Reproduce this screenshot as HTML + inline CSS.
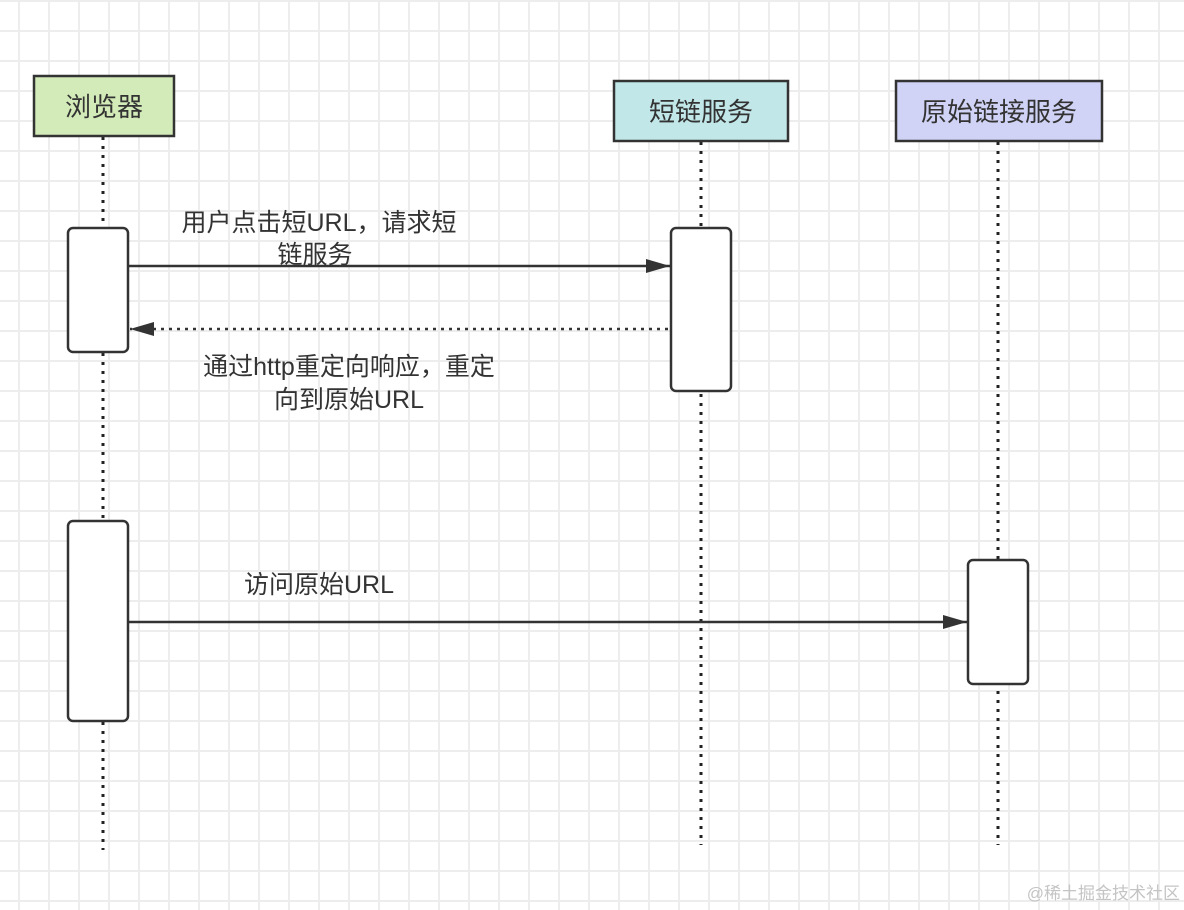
<!DOCTYPE html>
<html><head><meta charset="utf-8"><style>
body{margin:0;width:1184px;height:910px;overflow:hidden;background:#fff;
background-image:linear-gradient(to right,#ededed 2px,transparent 2px),linear-gradient(to bottom,#ededed 2px,transparent 2px);
background-size:30px 30px;background-position:18px 0px;}
svg{position:absolute;left:0;top:0}
text{font-family:"Liberation Sans","Noto Sans CJK SC",sans-serif;fill:#333}
</style></head><body>
<svg width="1184" height="910">
<defs>
<marker id="b" viewBox="0 0 24 14" markerWidth="24" markerHeight="14" refX="24" refY="7" orient="auto" markerUnits="userSpaceOnUse"><path d="M0,0 L24,7 L0,14z" fill="#333"/></marker></defs>
<g stroke="#222" stroke-width="3" stroke-dasharray="3,6">
<line x1="103" y1="137" x2="103" y2="850"/>
<line x1="701" y1="142" x2="701" y2="845"/>
<line x1="998" y1="142" x2="998" y2="845"/>
</g>
<g stroke="#333" stroke-width="2.5">
<rect x="34" y="76" width="140" height="60" fill="#d3ebb8"/>
<rect x="614" y="81" width="174" height="60" fill="#c1e7e8"/>
<rect x="896" y="81" width="206" height="60" fill="#d0d3f5"/>
</g>
<g stroke="#333" stroke-width="2.5" fill="#fff">
<rect x="68" y="228" width="60" height="124" rx="5"/>
<rect x="671" y="228" width="60" height="163" rx="5"/>
<rect x="68" y="521" width="60" height="200" rx="5"/>
<rect x="968" y="560" width="60" height="124" rx="5"/>
</g>
<line x1="129" y1="266" x2="670" y2="266" stroke="#333" stroke-width="2.5" marker-end="url(#b)"/>
<line x1="668" y1="329" x2="130" y2="329" stroke="#333" stroke-width="2.5" stroke-dasharray="3,5" marker-end="url(#b)"/>
<line x1="129" y1="622" x2="967" y2="622" stroke="#333" stroke-width="2.5" marker-end="url(#b)"/>
<g font-size="26" text-anchor="middle">
<text x="104" y="116">浏览器</text>
<text x="701" y="121">短链服务</text>
<text x="999" y="121">原始链接服务</text>
</g>
<g font-size="25" text-anchor="middle">
<text x="319" y="231">用户点击短URL，请求短</text>
<text x="315" y="263">链服务</text>
<text x="349" y="375">通过http重定向响应，重定</text>
<text x="349" y="408">向到原始URL</text>
<text x="319" y="593">访问原始URL</text>
</g>
<text x="1180" y="899" font-size="17" text-anchor="end" style="fill:#c4c4c4">@稀土掘金技术社区</text>
</svg>
</body></html>
